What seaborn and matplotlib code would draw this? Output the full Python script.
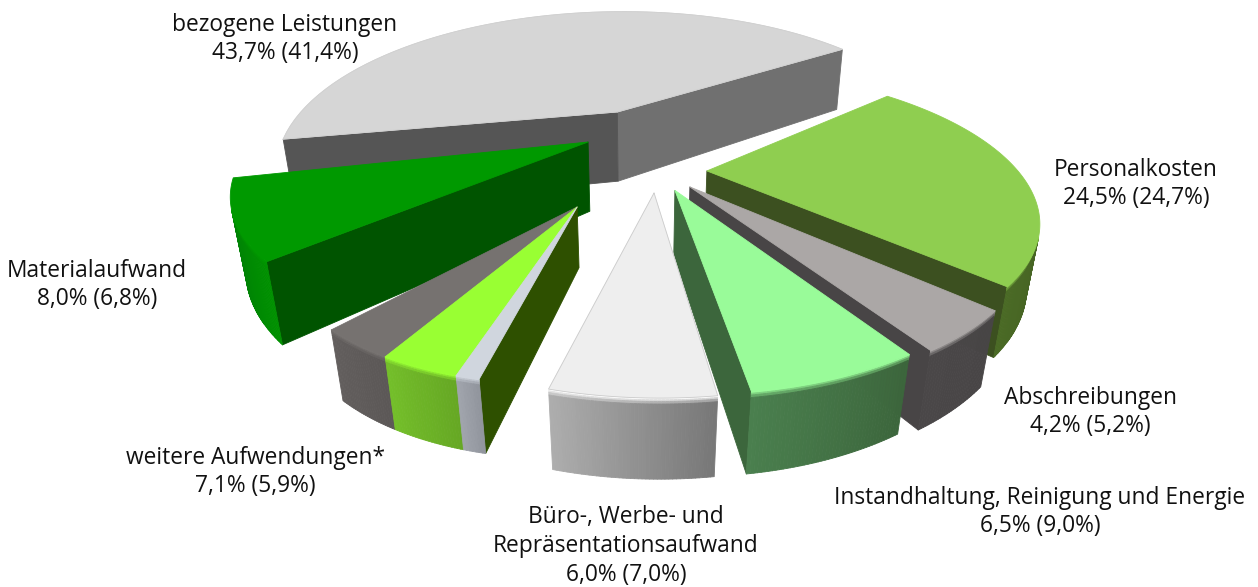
import numpy as np
import seaborn as sns
import matplotlib
matplotlib.use("Agg")
import matplotlib.pyplot as plt
from matplotlib.patches import Polygon

# values from the chart (share in percent, previous year in brackets)
names = ["bezogene Leistungen", "Materialaufwand", "weitere Aufwendungen*",
         "Büro-, Werbe- und\nRepräsentationsaufwand", "Instandhaltung, Reinigung und Energie",
         "Abschreibungen", "Personalkosten"]
shares = [43.7, 8.0, 7.1, 6.0, 6.5, 4.2, 24.5]
previous = [41.4, 6.8, 5.9, 7.0, 9.0, 5.2, 24.7]
# the "weitere" slice is cut in three coloured parts
weitere_parts = [3.1, 3.1, 0.9]

sns.set_theme(style="white")
plt.rcParams['font.family'] = ['Open Sans', 'DejaVu Sans']

# camera
cx, cy = 640, 165
F, D = 947, 2.87
sin_e, cos_e = np.sin(np.radians(25)), np.cos(np.radians(25))


def proj(x, y, z):
    zc = D + y * cos_e - z * sin_e
    return cx + F * x / zc, cy - F * (y * sin_e + z * cos_e) / zc


# look of each slice, same order as names
explode = [(-0.078, 0.432), (-0.166, 0.174), (-0.174, -0.275), (0.04, -0.189),
           (0.10, -0.172), (0.144, -0.150), (0.20, -0.042)]
radius = [1.09, 1.065, 0.775, 0.905, 0.91, 0.92, 0.93]
stretch = [1.15, 1, 1, 1, 1, 1, 1]
depth = [0.265, 0.25, 0.195, 0.21, 0.215, 0.215, 0.205]
turn = [-1.5, 2, 8, 9, 9.5, 9.5, 9.5]
spread = [1, 1.04, 1.15, 1, 1, 1, 0.975]
start_angle = 35
tops = [["#d6d6d6"], ["#009900"], ["#767270", "#99ff33", "#d0d6de"], ["#eeeeee"],
        ["#99fb99"], ["#aba7a6"], ["#8fce50"]]
walls = [[("#707070", "#555555")], [("#00770a", "#009000")],
         [("#625e5d", "#5c5857"), ("#74bf2a", "#66a824"), ("#a0a4ac", "#92969e")],
         [("#adadad", "#787878")], [("#4a7f4e", "#3c663c")], [("#4a4748", "#484546")],
         [("#4a6a25", "#3c5020")]]
face_start = ["#707070", None, None, None, "#3c663c", "#484546", "#3c5020"]
face_end = ["#555555", "#005400", "#2e5000", None, None, None, None]
rim = [None, None, None, "#ffffff", None, None, None]
top_edge = ["#d0d0d0", None, None, "#cccccc", None, None, None]
draw_order = [0, 1, 2, 6, 5, 4, 3]

label_xy = [(285, 39), (97, 285), (255, 472), (626, 546), (1040, 512), (1090, 412), (1136, 184)]

fig = plt.figure(figsize=(12.58, 5.87), dpi=100)
ax = fig.add_axes([0, 0, 1, 1])
ax.set_xlim(0, 1258)
ax.set_ylim(587, 0)
ax.axis("off")


def area(pts):
    p = np.array(pts)
    q = np.roll(p, -1, axis=0)
    return np.sum(p[:, 0] * q[:, 1] - q[:, 0] * p[:, 1])


def poly(pts, color, edge=None, lw=0.6):
    ax.add_patch(Polygon(pts, closed=True, facecolor=color, edgecolor=edge or color, lw=lw, joinstyle="round"))


total = sum(shares)
angle = start_angle
geometry = []
for i, s in enumerate(shares):
    parts = weitere_parts if i == 2 else [s]
    spans = [p * 360 / total * spread[i] for p in parts]
    geometry.append((angle + turn[i], spans))
    angle += s * 360 / total


def rim_point(i, theta, z):
    ex, ey = explode[i]
    r, st = radius[i], stretch[i]
    return proj(ex + r * np.cos(np.radians(theta)), ey + r * st * np.sin(np.radians(theta)), z)


bands = [0, 0.02, 0.04, 0.07, 1]

for i in draw_order:
    ex, ey = explode[i]
    h = depth[i]
    t0, spans = geometry[i]
    apex_top = proj(ex, ey, 0)
    apex_bot = proj(ex, ey, -h)
    t1 = t0 + sum(spans)

    # straight cut faces
    for theta, col, sign in [(t0, face_start[i], 1), (t1, face_end[i], -1)]:
        quad = [apex_top, rim_point(i, theta, 0), rim_point(i, theta, -h), apex_bot]
        if col and area(quad) * sign > 0:
            poly(quad, col)

    # outer wall and top, segment by segment
    t = t0
    for span, top, (w0, w1) in zip(spans, tops[i], walls[i]):
        n = max(int(span / 0.5), 4)
        th = np.linspace(t, t + span, n + 1)
        shades = sns.blend_palette([w0, w1], n)
        for k in range(n):
            for b in range(len(bands) - 1):
                z0, z1 = -h * bands[b], -h * bands[b + 1]
                quad = [rim_point(i, th[k], z0), rim_point(i, th[k + 1], z0),
                        rim_point(i, th[k + 1], z1), rim_point(i, th[k], z1)]
                if area(quad) <= 0:
                    continue
                if b == len(bands) - 2:
                    col = shades[k]
                else:
                    first = rim[i] or top
                    col = sns.blend_palette([first, shades[k]], 4)[b]
                poly(quad, col)
        arc = [rim_point(i, a, 0) for a in th]
        poly([apex_top] + arc, top)
        t += span
    if top_edge[i]:
        arc = [rim_point(i, a, 0) for a in np.linspace(t0, t1, 60)]
        ax.plot(*zip(*([apex_top] + arc + [apex_top])), color=top_edge[i], lw=0.6)

for name, s, p, (x, y) in zip(names, shares, previous, label_xy):
    txt = f"{name}\n{s:.1f}% ({p:.1f}%)".replace(".", ",")
    ax.text(x, y, txt, ha="center", va="center", fontsize=16.4, color="#111111", linespacing=1.27)

fig.savefig("out.png", dpi=100)
